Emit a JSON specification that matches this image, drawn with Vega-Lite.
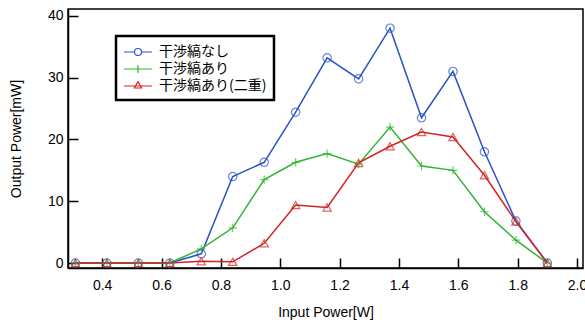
{
  "$schema": "https://vega.github.io/schema/vega-lite/v6.json",
  "width": 515,
  "height": 259,
  "autosize": "none",
  "padding": {"left": 68, "top": 9, "right": 2, "bottom": 56},
  "background": "white",
  "config": {
    "view": {"stroke": "black", "strokeWidth": 1.5},
    "font": "Liberation Sans",
    "axis": {
      "grid": false,
      "domainColor": "black",
      "tickColor": "black",
      "labelColor": "black",
      "titleColor": "black",
      "labelFontSize": 14,
      "titleFontSize": 14,
      "titleFontWeight": "normal",
      "tickWidth": 1.5,
      "domainWidth": 1.5
    }
  },
  "data": {
    "values": [
      {"x": 0.31, "y": 0, "s": "干渉縞なし"},
      {"x": 0.416, "y": 0, "s": "干渉縞なし"},
      {"x": 0.522, "y": 0, "s": "干渉縞なし"},
      {"x": 0.628, "y": 0, "s": "干渉縞なし"},
      {"x": 0.734, "y": 1.5, "s": "干渉縞なし"},
      {"x": 0.84, "y": 14, "s": "干渉縞なし"},
      {"x": 0.946, "y": 16.3, "s": "干渉縞なし"},
      {"x": 1.052, "y": 24.4, "s": "干渉縞なし"},
      {"x": 1.158, "y": 33.2, "s": "干渉縞なし"},
      {"x": 1.264, "y": 29.8, "s": "干渉縞なし"},
      {"x": 1.37, "y": 38, "s": "干渉縞なし"},
      {"x": 1.476, "y": 23.5, "s": "干渉縞なし"},
      {"x": 1.582, "y": 31, "s": "干渉縞なし"},
      {"x": 1.688, "y": 18, "s": "干渉縞なし"},
      {"x": 1.794, "y": 6.8, "s": "干渉縞なし"},
      {"x": 1.9, "y": 0, "s": "干渉縞なし"},
      {"x": 0.31, "y": 0, "s": "干渉縞あり"},
      {"x": 0.416, "y": 0, "s": "干渉縞あり"},
      {"x": 0.522, "y": 0, "s": "干渉縞あり"},
      {"x": 0.628, "y": 0, "s": "干渉縞あり"},
      {"x": 0.734, "y": 2.3, "s": "干渉縞あり"},
      {"x": 0.84, "y": 5.7, "s": "干渉縞あり"},
      {"x": 0.946, "y": 13.5, "s": "干渉縞あり"},
      {"x": 1.052, "y": 16.3, "s": "干渉縞あり"},
      {"x": 1.158, "y": 17.7, "s": "干渉縞あり"},
      {"x": 1.264, "y": 16, "s": "干渉縞あり"},
      {"x": 1.37, "y": 22, "s": "干渉縞あり"},
      {"x": 1.476, "y": 15.7, "s": "干渉縞あり"},
      {"x": 1.582, "y": 15, "s": "干渉縞あり"},
      {"x": 1.688, "y": 8.3, "s": "干渉縞あり"},
      {"x": 1.794, "y": 3.7, "s": "干渉縞あり"},
      {"x": 1.9, "y": 0, "s": "干渉縞あり"},
      {"x": 0.31, "y": 0, "s": "干渉縞あり(二重)"},
      {"x": 0.416, "y": 0, "s": "干渉縞あり(二重)"},
      {"x": 0.522, "y": 0, "s": "干渉縞あり(二重)"},
      {"x": 0.628, "y": 0, "s": "干渉縞あり(二重)"},
      {"x": 0.734, "y": 0.3, "s": "干渉縞あり(二重)"},
      {"x": 0.84, "y": 0.2, "s": "干渉縞あり(二重)"},
      {"x": 0.946, "y": 3.2, "s": "干渉縞あり(二重)"},
      {"x": 1.052, "y": 9.4, "s": "干渉縞あり(二重)"},
      {"x": 1.158, "y": 9, "s": "干渉縞あり(二重)"},
      {"x": 1.264, "y": 16.2, "s": "干渉縞あり(二重)"},
      {"x": 1.37, "y": 18.9, "s": "干渉縞あり(二重)"},
      {"x": 1.476, "y": 21.2, "s": "干渉縞あり(二重)"},
      {"x": 1.582, "y": 20.4, "s": "干渉縞あり(二重)"},
      {"x": 1.688, "y": 14.2, "s": "干渉縞あり(二重)"},
      {"x": 1.794, "y": 6.7, "s": "干渉縞あり(二重)"},
      {"x": 1.9, "y": 0, "s": "干渉縞あり(二重)"}
    ]
  },
  "encoding": {
    "x": {
      "field": "x", "type": "quantitative",
      "scale": {"domain": [0.285, 2.02], "nice": false, "zero": false},
      "axis": {
        "values": [0.4, 0.6, 0.8, 1.0, 1.2, 1.4, 1.6, 1.8, 2.0],
        "format": ".1f",
        "title": "Input Power[W]",
        "tickSize": -10,
        "labelPadding": 20,
        "titlePadding": 13
      }
    },
    "y": {
      "field": "y", "type": "quantitative",
      "scale": {"domain": [-0.8, 41.1], "nice": false, "zero": false},
      "axis": {
        "values": [0, 10, 20, 30, 40],
        "title": "Output Power[mW]",
        "tickSize": -10,
        "labelPadding": 15,
        "titlePadding": 24
      }
    },
    "color": {
      "field": "s", "type": "nominal",
      "scale": {"domain": ["干渉縞なし", "干渉縞あり", "干渉縞あり(二重)"], "range": ["#2a52c4", "#2fb52f", "#d42222"]},
      "legend": {
        "orient": "none",
        "legendX": 48,
        "legendY": 27,
        "title": null,
        "strokeColor": "black",
        "fillColor": "white",
        "padding": 7,
        "labelFont": "Noto Sans CJK JP",
        "labelFontSize": 14,
        "labelColor": "black",
        "symbolSize": 256,
        "symbolStrokeWidth": 1.2,
        "symbolFillColor": "transparent",
        "symbolType": {"expr": "datum.value == '干渉縞なし' ? 'M-1,0H0.31M1.19,0H2.5M0.31,0A0.44,0.44 0 1,1 1.19,0A0.44,0.44 0 1,1 0.31,0' : datum.value == '干渉縞あり' ? 'M-1,0H2.5M0.75,-0.5V0.5' : 'M-1,0H2.5M0.75,-0.55L1.2,0.25L0.3,0.25Z'"},
        "rowPadding": 1,
        "labelOffset": 18,
        "encode": {
          "legend": {"update": {"strokeWidth": {"value": 2.5}}}
        }
      }
    }
  },
  "layer": [
    {"mark": {"type": "line", "strokeWidth": 1.5}},
    {
      "transform": [{"filter": "datum.s == '干渉縞なし'"}],
      "mark": {"type": "point", "filled": false, "size": 70, "strokeWidth": 1.2, "shape": "circle"}
    },
    {
      "transform": [{"filter": "datum.s == '干渉縞あり'"}],
      "mark": {"type": "point", "filled": false, "size": 70, "strokeWidth": 1.2, "shape": "M-1,0H1M0,-1V1"}
    },
    {
      "transform": [{"filter": "datum.s == '干渉縞あり(二重)'"}],
      "mark": {"type": "point", "filled": false, "size": 70, "strokeWidth": 1.2, "shape": "triangle-up"}
    }
  ]
}
